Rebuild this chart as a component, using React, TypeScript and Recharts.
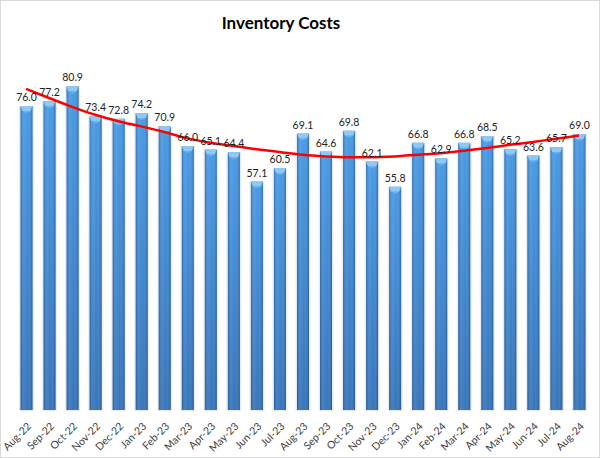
import React from 'react';
import { ComposedChart, Bar, Line, XAxis, YAxis, LabelList } from 'recharts';

const months = [
  'Aug-22', 'Sep-22', 'Oct-22', 'Nov-22', 'Dec-22', 'Jan-23', 'Feb-23', 'Mar-23', 'Apr-23',
  'May-23', 'Jun-23', 'Jul-23', 'Aug-23', 'Sep-23', 'Oct-23', 'Nov-23', 'Dec-23', 'Jan-24',
  'Feb-24', 'Mar-24', 'Apr-24', 'May-24', 'Jun-24', 'Jul-24', 'Aug-24',
];

const costs = [
  76.0, 77.2, 80.9, 73.4, 72.8, 74.2, 70.9, 66.0, 65.1, 64.4, 57.1, 60.5, 69.1,
  64.6, 69.8, 62.1, 55.8, 66.8, 62.9, 66.8, 68.5, 65.2, 63.6, 65.7, 69.0,
];

// red trend line at each month
const trend = [
  80.3, 78.0, 75.8, 73.8, 72.2, 70.9, 69.5, 67.9, 66.8, 66.0, 65.2, 64.5, 63.8,
  63.4, 63.2, 63.2, 63.4, 63.8, 64.2, 64.8, 65.5, 66.3, 67.0, 67.8, 68.6,
];

const data = months.map((m, i) => ({ month: m, cost: costs[i], trend: trend[i] }));

const CylinderBar = (props: any) => {
  const { x, y, width, height } = props;
  if (!height || height <= 0) return null;
  const cap = 5;
  return (
    <g>
      <rect x={x - 1.5} y={y} width={width + 3} height={height + 1} fill="#000" opacity={0.08} />
      <rect x={x} y={y} width={width} height={height} fill="url(#barVert)" />
      <rect x={x} y={y} width={width} height={height} fill="url(#barHoriz)" />
      <path
        d={`M${x},${y} L${x + width},${y} L${x + width - 2},${y + cap} L${x + 2},${y + cap} Z`}
        fill="#8ec8f4"
      />
      <path
        d={`M${x + 2},${y + cap} L${x + width - 2},${y + cap} L${x + width / 2},${y + cap + 2} Z`}
        fill="#6cb2ec"
      />
    </g>
  );
};

const MonthTick = (props: any) => {
  const { x, y, payload } = props;
  return (
    <g transform={`translate(${x + 3},${y + 6})`}>
      <text x={0} y={0} dy={4} textAnchor="end" transform="rotate(-45)"
        style={{ fontFamily: 'Lato', fontSize: 10.5, fill: '#404040' }}>
        {payload?.value}
      </text>
    </g>
  );
};

export default function App() {
  return (
    <div style={{ position: 'absolute', left: 0, top: 0, width: 600, height: 458, background: '#fff' }}>
      <div style={{ position: 'absolute', left: 0, top: 0, width: 598, height: 456, border: '1px solid #d9d9d9' }} />
      <div style={{
        position: 'absolute', left: 0, top: 12, width: 562, textAlign: 'center',
        fontFamily: 'Lato', fontWeight: 700, fontSize: 17, color: '#000',
      }}>
        Inventory Costs
      </div>
      <ComposedChart width={600} height={458} data={data}
        margin={{ top: 10, right: 9.5, left: 14.5, bottom: 8 }}>
        <defs>
          <linearGradient id="barVert" x1="0" y1="0" x2="0" y2="1">
            <stop offset="0%" stopColor="#3f95e4" />
            <stop offset="100%" stopColor="#2d6db6" />
          </linearGradient>
          <linearGradient id="barHoriz" x1="0" y1="0" x2="1" y2="0">
            <stop offset="0%" stopColor="#0b3a70" stopOpacity={0.35} />
            <stop offset="30%" stopColor="#ffffff" stopOpacity={0.12} />
            <stop offset="60%" stopColor="#ffffff" stopOpacity={0.05} />
            <stop offset="100%" stopColor="#0b3a70" stopOpacity={0.4} />
          </linearGradient>
        </defs>
        <XAxis dataKey="month" interval={0} height={40} axisLine={false} tickLine={false}
          tick={<MonthTick />} />
        <YAxis hide domain={[0, 100]} />
        <Bar dataKey="cost" barSize={12} shape={<CylinderBar />} isAnimationActive={false}>
          <LabelList dataKey="cost" position="top" offset={5}
            formatter={(v: any) => Number(v).toFixed(1)}
            style={{ fontFamily: 'Lato', fontSize: 10.5, fill: '#222' }} />
        </Bar>
        <Line dataKey="trend" type="monotone" stroke="#ff0000" strokeWidth={2.5}
          dot={false} isAnimationActive={false} />
      </ComposedChart>
    </div>
  );
}
